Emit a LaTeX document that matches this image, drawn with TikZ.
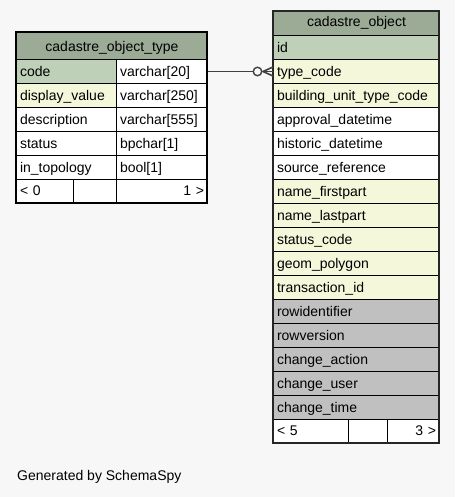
\documentclass[tikz,border=0pt]{standalone}
\usepackage{fontspec}
\setmainfont{Liberation Sans}
\definecolor{bg}{HTML}{F7F7F7}
\definecolor{hdr}{HTML}{9BAB96}
\definecolor{pk}{HTML}{BED1B8}
\definecolor{fk}{HTML}{F4F7DA}
\definecolor{ex}{HTML}{C0C0C0}
\definecolor{lnk}{HTML}{404040}
\begin{document}
\begin{tikzpicture}[x=1pt,y=-1pt,
  font=\fontsize{14}{16}\selectfont,
  cell/.style={draw=black, line width=1pt, anchor=north west, inner xsep=3.5pt, inner ysep=0pt,
    minimum height=24pt, text height=12pt, text depth=2pt, align=left},
  hcell/.style={cell, fill=hdr, align=center},
  conn/.style={draw=lnk, line width=1.4pt}]
\fill[bg] (0,0) rectangle (455,497);
\useasboundingbox (0,0) rectangle (455,497);
% ---------- left table ----------
\node[hcell, minimum height=27pt, text width=184pt, text height=12pt, text depth=1pt] (lh) at (16,32) {cadastre\_object\_type};
\foreach \n/\t/\ty/\fa/\fb [count=\i from 0] in {
  lcode/code/varchar[20]/pk/white,
  ldisp/display\_value/varchar[250]/fk/white,
  ldesc/description/varchar[555]/white/white,
  lstat/status/bpchar[1]/white/white,
  ltopo/in\_topology/bool[1]/white/white}{
  \node[cell, fill=\fa, text width=93pt] (\n) at (16,59+24*\i) {\t};
  \node[cell, fill=\fb, text width=84pt] (\n T) at (116,59+24*\i) {\ty};
}
\node[cell, fill=white, text width=50pt, text height=11pt, text depth=3pt] (lfa) at (16,179) {< 0};
\node[cell, fill=white, text width=36pt] (lfb) at (73,179) {};
\node[cell, fill=white, text width=84pt, align=right, text height=11pt, text depth=3pt] (lfc) at (116,179) {1 >};
\draw[line width=2.6pt, black] (16,32) rectangle (207,203);
% ---------- right table ----------
\node[hcell, text width=159pt, text height=10pt, text depth=3pt] (rh) at (273,11) {cadastre\_object};
\foreach \n/\t/\f [count=\i from 0] in {
  rid/id/pk,
  rtype/type\_code/fk,
  rbut/building\_unit\_type\_code/fk,
  rapp/approval\_datetime/white,
  rhist/historic\_datetime/white,
  rsrc/source\_reference/white,
  rfirst/name\_firstpart/fk,
  rlast/name\_lastpart/fk,
  rstat/status\_code/fk,
  rgeom/geom\_polygon/fk,
  rtrans/transaction\_id/fk,
  rrowid/rowidentifier/ex,
  rrowv/rowversion/ex,
  rcha/change\_action/ex,
  rchu/change\_user/ex,
  rcht/change\_time/ex}{
  \node[cell, fill=\f, text width=159pt] (\n) at (273,35+24*\i) {\t};
}
\node[cell, fill=white, text width=68pt, text height=11pt, text depth=3pt] (rfa) at (273,419) {< 5};
\node[cell, fill=white, text width=32pt] (rfb) at (348,419) {};
\node[cell, fill=white, text width=45pt, align=right, text height=11pt, text depth=3pt] (rfc) at (387,419) {3 >};
\draw[line width=1.3pt, black!85] (273,11) rectangle (439,443);
% ---------- connector ----------
\node[circle, draw=lnk, fill=bg, line width=1.4pt, minimum size=8.5pt, inner sep=0pt]
  (zc) at ([xshift=-15.5pt]rtype.west) {};
\coordinate (cf) at ([xshift=-10pt]rtype.west);
\draw[conn] (lcodeT.east) -- (zc.west);
\draw[conn] (zc.east) -- (rtype.west);
\draw[conn, line width=1.6pt] (cf) -- ([yshift=-4.5pt]rtype.west);
\draw[conn, line width=1.6pt] (cf) -- ([yshift=4.5pt]rtype.west);
% ---------- footer text ----------
\node[anchor=west, inner sep=0pt] (gen) at (17,477) {Generated by SchemaSpy};
\end{tikzpicture}
\end{document}
